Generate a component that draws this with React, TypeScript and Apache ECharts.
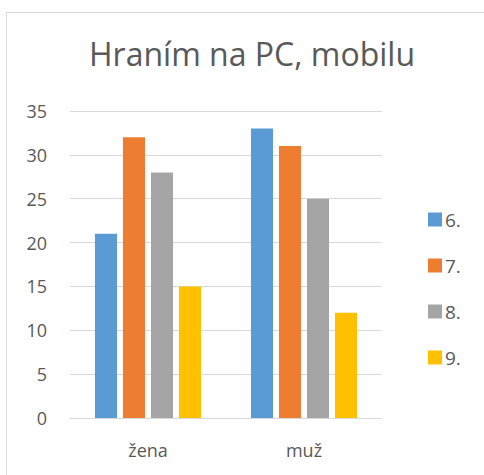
import React, { useEffect, useRef } from "react";
import * as echarts from "echarts";

const categories = ["žena", "muž"];
const seriesNames = ["6.", "7.", "8.", "9."];
const values6 = [21, 33];
const values7 = [32, 31];
const values8 = [28, 25];
const values9 = [15, 12];
const colors = ["#5B9BD5", "#ED7D31", "#A5A5A5", "#FFC000"];
const yTicks = { min: 0, max: 35, interval: 5 };

export default function App() {
  const ref = useRef<HTMLDivElement>(null);
  useEffect(() => {
    if (!ref.current) return;
    const chart = echarts.init(ref.current, null, { renderer: "svg" });
    const font = "'Open Sans', sans-serif";
    const data = [values6, values7, values8, values9];
    chart.setOption({
      animation: false,
      backgroundColor: "#ffffff",
      graphic: [
        {
          type: "rect",
          shape: { x: 6.5, y: 12.5, width: 500, height: 500 },
          style: { fill: "none", stroke: "#D9D9D9", lineWidth: 1 },
          silent: true,
        },
      ],
      title: {
        text: "Hraním na PC, mobilu",
        left: 247,
        textAlign: "center",
        top: 32,
        textStyle: { fontFamily: font, fontSize: 32, fontWeight: "normal", color: "#595959" },
      },
      legend: {
        orient: "vertical",
        left: 423,
        top: 205,
        itemWidth: 14,
        itemHeight: 14,
        itemGap: 27,
        icon: "rect",
        data: seriesNames,
        textStyle: { fontFamily: font, fontSize: 19, color: "#595959", lineHeight: 18, padding: [0, 0, 0, -2] },
      },
      grid: { left: 70, right: 102, top: 111, bottom: 57 },
      xAxis: {
        type: "category",
        data: categories,
        axisLine: { lineStyle: { color: "#D9D9D9", width: 1 } },
        axisTick: { show: false },
        axisLabel: { fontFamily: font, fontSize: 18, color: "#595959", margin: 23 },
      },
      yAxis: {
        type: "value",
        min: yTicks.min,
        max: yTicks.max,
        interval: yTicks.interval,
        axisLine: { show: false },
        axisTick: { show: false },
        splitLine: { lineStyle: { color: "#D9D9D9", width: 1 } },
        axisLabel: { fontFamily: font, fontSize: 18, color: "#595959", margin: 23 },
      },
      series: seriesNames.map((name, i) => ({
        name,
        type: "bar",
        data: data[i],
        itemStyle: { color: colors[i] },
        barGap: "27%",
        barCategoryGap: "32%",
      })),
    });
    return () => chart.dispose();
  }, []);
  return (
    <div
      ref={ref}
      style={{ position: "absolute", left: 0, top: 0, width: 484, height: 475 }}
    />
  );
}
